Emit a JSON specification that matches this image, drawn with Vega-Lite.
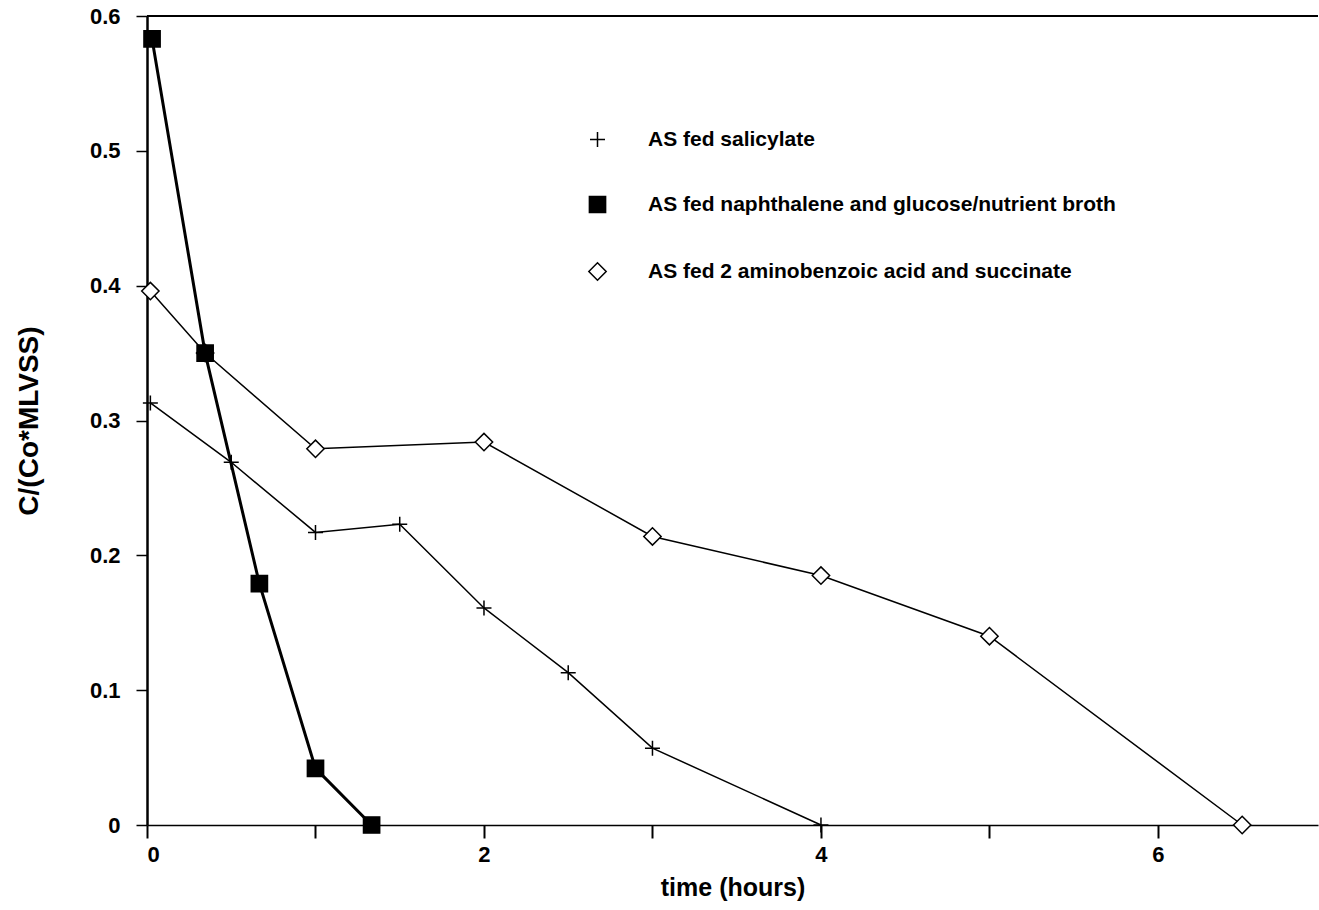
{
  "$schema": "https://vega.github.io/schema/vega-lite/v6.json",
  "autosize": "none",
  "width": 1171,
  "height": 809,
  "padding": {"left": 147, "top": 16, "right": 1, "bottom": 85},
  "background": "white",
  "config": {
    "font": "Liberation Sans",
    "view": {"stroke": null},
    "axis": {"grid": false, "domainColor": "black", "tickColor": "black", "labelColor": "black", "titleColor": "black", "labelFont": "Liberation Sans", "titleFont": "Liberation Sans", "labelFontWeight": "bold", "titleFontWeight": "bold", "labelFontSize": 22, "titleFontSize": 25}
  },
  "data": {"values": [
    {"series": "AS fed 2 aminobenzoic acid and succinate", "t": 0.02, "c": 0.396},
    {"series": "AS fed 2 aminobenzoic acid and succinate", "t": 0.345, "c": 0.35},
    {"series": "AS fed 2 aminobenzoic acid and succinate", "t": 1.0, "c": 0.279},
    {"series": "AS fed 2 aminobenzoic acid and succinate", "t": 2.0, "c": 0.284},
    {"series": "AS fed 2 aminobenzoic acid and succinate", "t": 3.0, "c": 0.214},
    {"series": "AS fed 2 aminobenzoic acid and succinate", "t": 4.0, "c": 0.185},
    {"series": "AS fed 2 aminobenzoic acid and succinate", "t": 5.0, "c": 0.14},
    {"series": "AS fed 2 aminobenzoic acid and succinate", "t": 6.5, "c": 0.0},
    {"series": "AS fed salicylate", "t": 0.02, "c": 0.313},
    {"series": "AS fed salicylate", "t": 0.5, "c": 0.269},
    {"series": "AS fed salicylate", "t": 1.0, "c": 0.217},
    {"series": "AS fed salicylate", "t": 1.5, "c": 0.223},
    {"series": "AS fed salicylate", "t": 2.0, "c": 0.161},
    {"series": "AS fed salicylate", "t": 2.5, "c": 0.113},
    {"series": "AS fed salicylate", "t": 3.0, "c": 0.057},
    {"series": "AS fed salicylate", "t": 4.0, "c": 0.0},
    {"series": "AS fed naphthalene and glucose/nutrient broth", "t": 0.03, "c": 0.583},
    {"series": "AS fed naphthalene and glucose/nutrient broth", "t": 0.345, "c": 0.35},
    {"series": "AS fed naphthalene and glucose/nutrient broth", "t": 0.667, "c": 0.179},
    {"series": "AS fed naphthalene and glucose/nutrient broth", "t": 1.0, "c": 0.042},
    {"series": "AS fed naphthalene and glucose/nutrient broth", "t": 1.333, "c": 0.0}
  ]},
  "encoding": {
    "x": {"field": "t", "type": "quantitative", "scale": {"domain": [0, 6.95], "nice": false, "zero": false},
      "axis": {"title": "time (hours)", "values": [0, 1, 2, 3, 4, 5, 6], "labelExpr": "datum.value % 2 == 0 ? datum.label : ''", "tickSize": 13, "labelPadding": 6, "domainWidth": 1.5, "tickWidth": 2, "titlePadding": 10}},
    "y": {"field": "c", "type": "quantitative", "scale": {"domain": [0, 0.6], "nice": false},
      "axis": {"title": "C/(Co*MLVSS)", "titleFontSize": 28, "values": [0, 0.1, 0.2, 0.3, 0.4, 0.5, 0.6], "format": "~g", "tickSize": 11, "labelPadding": 16, "domainWidth": 2.5, "tickWidth": 1.5, "titlePadding": 46}}
  },
  "layer": [
    {
      "mark": {"type": "rule", "color": "black", "strokeWidth": 1.5},
      "encoding": {"x": null, "y": {"datum": 0.6}}
    },
    {
      "mark": {"type": "line", "color": "black"},
      "encoding": {
        "detail": {"field": "series"},
        "strokeWidth": {"condition": {"test": "datum.series == 'AS fed naphthalene and glucose/nutrient broth'", "value": 3}, "value": 1.5}
      }
    },
    {
      "mark": {"type": "point", "stroke": "black", "strokeWidth": 1.5, "opacity": 1, "filled": false},
      "encoding": {
        "shape": {"field": "series", "type": "nominal", "title": null,
          "scale": {"domain": ["AS fed salicylate", "AS fed naphthalene and glucose/nutrient broth", "AS fed 2 aminobenzoic acid and succinate"], "range": ["M-1,0H1M0,-1V1", "square", "diamond"]},
          "legend": {"orient": "none", "legendX": 440, "legendY": 113, "padding": 0, "rowPadding": 43, "labelFontSize": 21, "labelFontWeight": "bold", "labelFont": "Liberation Sans", "labelColor": "black", "labelOffset": 40, "labelLimit": 0, "symbolStrokeWidth": 1.5, "symbolStrokeColor": "black"}},
        "fill": {"field": "series", "type": "nominal", "title": null,
          "scale": {"domain": ["AS fed salicylate", "AS fed naphthalene and glucose/nutrient broth", "AS fed 2 aminobenzoic acid and succinate"], "range": ["white", "black", "white"]}},
        "size": {"field": "series", "type": "nominal", "title": null,
          "scale": {"domain": ["AS fed salicylate", "AS fed naphthalene and glucose/nutrient broth", "AS fed 2 aminobenzoic acid and succinate"], "range": [225, 300, 220]}}
      }
    }
  ]
}
